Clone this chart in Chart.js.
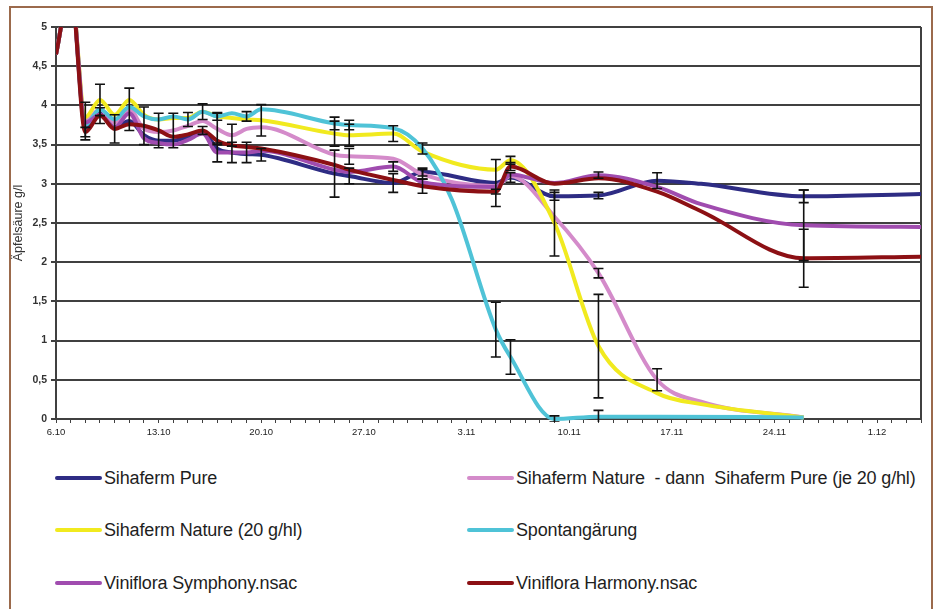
<!DOCTYPE html>
<html>
<head>
<meta charset="utf-8">
<script src="https://cdn.jsdelivr.net/npm/chart.js@4"></script>
<style>
  html, body { margin: 0; padding: 0; background: #fff; }
  body { width: 938px; height: 609px; position: relative; overflow: hidden; font-family: "Liberation Sans", Arial, sans-serif; }
  #wrap { position: absolute; left: 0; top: 0; width: 938px; height: 450px; }
  #frame { position: absolute; left: 9px; top: 6px; width: 924px; height: 620px; box-sizing: border-box; border: 2px solid #9b6a4c; pointer-events: none; }
  .item { position: absolute; height: 24px; display: flex; align-items: center; font-size: 18px; letter-spacing: -0.15px; color: #1e1e1e; white-space: pre; }
  .swatch { width: 47px; height: 4px; border-radius: 2px; margin-right: 2px; }
</style>
</head>
<body>
<div id="wrap"><canvas id="chart"></canvas></div>
<div id="legend"></div>
<div id="frame"></div>
<script>
// Messtage (Tage ab 6.10) und Äpfelsäure-Werte in g/l
const days = [0, 1, 2, 3, 4, 5, 6, 7, 8, 9, 10, 11, 12, 13, 14, 19, 20, 23, 25, 27, 30, 31, 34, 37, 41, 44, 51, 59];
const dateLabels = ['6.10', '13.10', '20.10', '27.10', '3.11', '10.11', '17.11', '24.11', '1.12'];

const seriesNames = [
    'Sihaferm Pure',
    'Sihaferm Nature  - dann  Sihaferm Pure (je 20 g/hl)',
    'Sihaferm Nature (20 g/hl)',
    'Spontangärung',
    'Viniflora Symphony.nsac',
    'Viniflora Harmony.nsac'
];
const seriesColors = ['#2e2c84', '#d48bca', '#f1ea1f', '#4fc3d7', '#a04caf', '#8c1014'];

const pure      = [4.65, 5.5, 3.72, 3.9, 3.72, 3.8, 3.62, 3.55, 3.55, 3.6, 3.66, 3.45, 3.4, 3.38, 3.37, 3.13, 3.1, 3.01, 3.15, null, 3.01, 3.08, 2.84, 2.85, 3.04, 3.0, 2.84, 2.87];
const natPure   = [4.65, 5.5, 3.8, 3.95, 3.78, 3.95, 3.7, 3.66, 3.68, 3.74, 3.8, 3.7, 3.62, 3.7, 3.72, 3.37, 3.35, 3.32, 3.12, null, 2.97, 3.1, 2.58, 1.86, 0.5, 0.22, 0.02, null];
const nature20  = [4.65, 5.5, 3.85, 4.07, 3.88, 4.07, 3.88, 3.82, 3.84, 3.84, 3.92, 3.86, 3.84, 3.82, 3.81, 3.64, 3.62, 3.64, 3.41, null, 3.18, 3.3, 2.5, 0.93, 0.33, 0.19, 0.02, null];
const spontan   = [4.65, 5.5, 3.75, 3.95, 3.82, 3.98, 3.86, 3.82, 3.86, 3.82, 3.92, 3.86, 3.9, 3.86, 3.95, 3.77, 3.75, 3.71, 3.45, 2.8, 1.14, 0.79, 0, 0.03, 0.03, null, 0.02, null];
const symphony  = [4.65, 5.5, 3.78, 3.88, 3.72, 3.9, 3.58, 3.52, 3.5, 3.56, 3.64, 3.4, 3.4, 3.4, 3.42, 3.18, 3.15, 3.22, 3.02, null, 2.96, 3.12, 3.01, 3.11, 2.96, 2.74, 2.47, 2.45];
const harmony   = [4.65, 5.5, 3.66, 3.87, 3.7, 3.76, 3.74, 3.68, 3.6, 3.63, 3.68, 3.55, 3.49, 3.47, 3.45, 3.24, 3.18, 3.05, 2.97, null, 2.9, 3.22, 3.0, 3.07, 2.9, 2.65, 2.05, 2.07];

// Standardabweichungen (Fehlerbalken), gleiche Reihenfolge wie days
const errPure     = [null, null, null, null, null, null, null, null, null, null, null, null, 0.13, null, 0.08, 0.3, 0.1, 0.12, 0.05, null, 0.3, 0.06, 0.05, 0.04, 0.1, null, 0.08, null];
const errNatPure  = [null, null, 0.24, null, null, 0.27, null, null, 0.22, null, null, 0.2, 0.14, null, null, null, 0.1, null, 0.06, null, null, null, null, 0.06, 0.14, null, null, null];
const errNature20 = [null, null, null, 0.2, null, null, null, null, null, null, 0.1, null, null, null, 0.2, 0.16, 0.14, 0.1, null, null, null, 0.05, 0.42, 0.66, null, null, null, null];
const errSpontan  = [null, null, null, null, null, null, null, null, null, 0.09, null, 0.05, null, 0.06, null, 0.08, 0.06, null, 0.07, null, 0.35, 0.22, 0.04, 0.08, null, null, null, null];
const errSymphony = [null, null, null, null, null, null, null, null, null, null, null, 0.12, null, 0.13, null, null, null, 0.06, null, null, null, null, null, 0.04, null, null, 0.45, null];
const errHarmony  = [null, null, 0.06, 0.1, 0.18, null, 0.24, 0.22, null, null, 0.05, null, null, null, null, null, null, null, 0.09, null, 0.03, 0.05, null, null, null, null, 0.37, null];

const allValues = [pure, natPure, nature20, spontan, symphony, harmony];
const allErrors = [errPure, errNatPure, errNature20, errSpontan, errSymphony, errHarmony];

const gridColor = '#404040';
const fontFamily = '"Liberation Sans", Arial, sans-serif';

function toPoints(values) {
    return days.map((d, i) => ({ x: d, y: values[i] })).filter(p => p.y !== null);
}

const datasets = allValues.map((values, k) => ({
    label: seriesNames[k],
    data: toPoints(values),
    borderColor: seriesColors[k],
    backgroundColor: seriesColors[k],
    borderWidth: 4,
    pointRadius: 0,
    cubicInterpolationMode: 'monotone',
    tension: 0.4,
    fill: false,
    order: allValues.length - 1 - k,
    clip: { left: 0, top: 0, right: 0, bottom: 3 }
}));

// Fehlerbalken über die Linien zeichnen
const errorBars = {
    id: 'errorBars',
    afterDatasetsDraw(chart) {
        const { ctx, chartArea, scales } = chart;
        ctx.save();
        ctx.beginPath();
        ctx.rect(chartArea.left, chartArea.top - 1, chartArea.right - chartArea.left, chartArea.bottom - chartArea.top + 4);
        ctx.clip();
        ctx.strokeStyle = '#111';
        ctx.lineWidth = 1.6;
        allErrors.forEach((errs, k) => {
            errs.forEach((e, i) => {
                if (e === null || allValues[k][i] === null) return;
                const v = allValues[k][i];
                const x = scales.x.getPixelForValue(days[i]);
                const yTop = scales.y.getPixelForValue(v + e);
                const yBot = scales.y.getPixelForValue(v - e);
                ctx.beginPath();
                ctx.moveTo(x, yTop); ctx.lineTo(x, yBot);
                ctx.moveTo(x - 5, yTop); ctx.lineTo(x + 5, yTop);
                ctx.moveTo(x - 5, yBot); ctx.lineTo(x + 5, yBot);
                ctx.stroke();
            });
        });
        ctx.restore();
    },
    beforeDatasetsDraw(chart) {
        // rechter Rahmen der Zeichenfläche
        const { ctx, chartArea } = chart;
        ctx.save();
        ctx.strokeStyle = gridColor;
        ctx.lineWidth = 2;
        ctx.beginPath();
        ctx.moveTo(chartArea.right, chartArea.top);
        ctx.lineTo(chartArea.right, chartArea.bottom);
        ctx.stroke();
        ctx.restore();
    }
};

new Chart(document.getElementById('chart').getContext('2d'), {
    type: 'line',
    data: { datasets: datasets },
    options: {
        responsive: true,
        maintainAspectRatio: false,
        animation: false,
        layout: { padding: { left: 0, top: 27, right: 17, bottom: 0 } },
        plugins: {
            legend: { display: false },
            tooltip: { enabled: false }
        },
        scales: {
            x: {
                type: 'linear',
                min: 0,
                max: 59,
                afterFit(scale) { scale.height = 31; },
                ticks: {
                    stepSize: 1,
                    autoSkip: false,
                    maxRotation: 0,
                    padding: 4,
                    color: '#222',
                    font: { family: fontFamily, size: 9.5 },
                    callback: v => (v % 7 === 0 ? dateLabels[v / 7] : '')
                },
                grid: { drawOnChartArea: false, color: gridColor, tickLength: 4, lineWidth: 1 },
                border: { color: gridColor, width: 2 }
            },
            y: {
                min: 0,
                max: 5,
                afterFit(scale) { scale.width = 56; },
                ticks: {
                    stepSize: 0.5,
                    padding: 4,
                    color: '#333',
                    font: { family: fontFamily, size: 10.5, weight: 'bold' },
                    callback: v => String(v).replace('.', ',')
                },
                grid: { color: gridColor, lineWidth: 2, tickLength: 5 },
                border: { color: gridColor, width: 2 },
                title: {
                    display: true,
                    text: 'Äpfelsäure g/l',
                    color: '#333',
                    font: { family: fontFamily, size: 12.5 },
                    padding: { top: 11, bottom: 0 }
                }
            }
        }
    },
    plugins: [errorBars]
});

// Legende in zwei Spalten wie im Original
const legend = document.getElementById('legend');
const legendCols = [55, 467];
const legendRows = [478, 530, 583];
seriesNames.forEach((name, k) => {
    const item = document.createElement('div');
    item.className = 'item';
    item.style.left = legendCols[k % 2] + 'px';
    item.style.top = (legendRows[Math.floor(k / 2)] - 12) + 'px';
    item.innerHTML = '<div class="swatch" style="background:' + seriesColors[k] + '"></div><span>' + name + '</span>';
    legend.appendChild(item);
});
</script>
</body>
</html>
